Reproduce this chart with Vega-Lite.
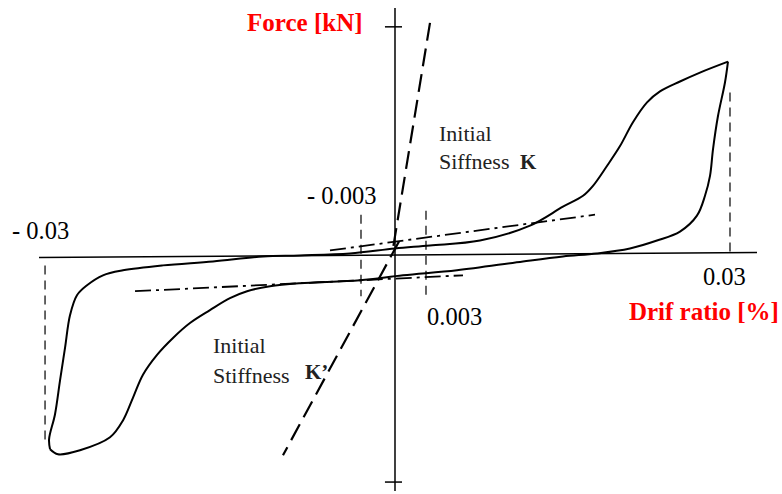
{
  "$schema": "https://vega.github.io/schema/vega-lite/v6.json",
  "width": 782,
  "height": 494,
  "autosize": {"type": "fit", "contains": "padding"},
  "padding": 0,
  "background": "white",
  "config": {"view": {"stroke": null}},
  "datasets": {
    "loop": [
      {"br": "load", "o": 1, "d": -0.03089, "f": -97},
      {"br": "load", "o": 2, "d": -0.03098, "f": -92},
      {"br": "load", "o": 3, "d": -0.03045, "f": -79.5},
      {"br": "load", "o": 4, "d": -0.03, "f": -62.5},
      {"br": "load", "o": 5, "d": -0.02955, "f": -46},
      {"br": "load", "o": 6, "d": -0.0291, "f": -29.5},
      {"br": "load", "o": 7, "d": -0.02848, "f": -19.5},
      {"br": "load", "o": 8, "d": -0.02758, "f": -14.5},
      {"br": "load", "o": 9, "d": -0.02615, "f": -9.5},
      {"br": "load", "o": 10, "d": -0.02436, "f": -7},
      {"br": "load", "o": 11, "d": -0.02078, "f": -4.5},
      {"br": "load", "o": 12, "d": -0.0163, "f": -2.5},
      {"br": "load", "o": 13, "d": -0.01182, "f": 0},
      {"br": "load", "o": 14, "d": -0.00851, "f": 0.5},
      {"br": "load", "o": 15, "d": -0.00403, "f": 1.5},
      {"br": "load", "o": 16, "d": 0.0, "f": 4},
      {"br": "load", "o": 17, "d": 0.00313, "f": 5.5},
      {"br": "load", "o": 18, "d": 0.00761, "f": 8},
      {"br": "load", "o": 19, "d": 0.01209, "f": 15.5},
      {"br": "load", "o": 20, "d": 0.01504, "f": 25},
      {"br": "load", "o": 21, "d": 0.01684, "f": 30.5},
      {"br": "load", "o": 22, "d": 0.01773, "f": 35.5},
      {"br": "load", "o": 23, "d": 0.01898, "f": 45.5},
      {"br": "load", "o": 24, "d": 0.02015, "f": 55.5},
      {"br": "load", "o": 25, "d": 0.02131, "f": 67.5},
      {"br": "load", "o": 26, "d": 0.02257, "f": 77.5},
      {"br": "load", "o": 27, "d": 0.02373, "f": 83},
      {"br": "load", "o": 28, "d": 0.02552, "f": 88},
      {"br": "load", "o": 29, "d": 0.02731, "f": 92.5},
      {"br": "load", "o": 30, "d": 0.02982, "f": 98},
      {"br": "unload", "o": 30, "d": 0.02982, "f": 98},
      {"br": "unload", "o": 31, "d": 0.02955, "f": 87.5},
      {"br": "unload", "o": 32, "d": 0.02892, "f": 70.5},
      {"br": "unload", "o": 33, "d": 0.02848, "f": 54},
      {"br": "unload", "o": 34, "d": 0.02821, "f": 40.5},
      {"br": "unload", "o": 35, "d": 0.02776, "f": 30.5},
      {"br": "unload", "o": 36, "d": 0.02704, "f": 20.5},
      {"br": "unload", "o": 37, "d": 0.02552, "f": 12.5},
      {"br": "unload", "o": 38, "d": 0.02346, "f": 8},
      {"br": "unload", "o": 39, "d": 0.02104, "f": 4},
      {"br": "unload", "o": 40, "d": 0.01809, "f": 1.5},
      {"br": "unload", "o": 41, "d": 0.01504, "f": 0},
      {"br": "unload", "o": 42, "d": 0.01146, "f": -2.5},
      {"br": "unload", "o": 43, "d": 0.00555, "f": -7},
      {"br": "unload", "o": 44, "d": 0.00072, "f": -9.5},
      {"br": "unload", "o": 45, "d": -0.00313, "f": -12},
      {"br": "unload", "o": 46, "d": -0.00851, "f": -13.5},
      {"br": "unload", "o": 47, "d": -0.01119, "f": -15},
      {"br": "unload", "o": 48, "d": -0.01325, "f": -17.5},
      {"br": "unload", "o": 49, "d": -0.01478, "f": -21},
      {"br": "unload", "o": 50, "d": -0.01657, "f": -27},
      {"br": "unload", "o": 51, "d": -0.01836, "f": -33.5},
      {"br": "unload", "o": 52, "d": -0.01988, "f": -41},
      {"br": "unload", "o": 53, "d": -0.02131, "f": -49.5},
      {"br": "unload", "o": 54, "d": -0.02257, "f": -59.5},
      {"br": "unload", "o": 55, "d": -0.02346, "f": -71},
      {"br": "unload", "o": 56, "d": -0.02436, "f": -82.5},
      {"br": "unload", "o": 57, "d": -0.02552, "f": -91},
      {"br": "unload", "o": 58, "d": -0.02821, "f": -97.5},
      {"br": "unload", "o": 59, "d": -0.03018, "f": -99.5},
      {"br": "unload", "o": 60, "d": -0.03089, "f": -97}
    ],
    "axes": [
      {"id": "h", "o": 1, "d": -0.03188, "f": -0.5},
      {"id": "h", "o": 2, "d": 0.03242, "f": 2},
      {"id": "v", "o": 1, "d": 0.0, "f": 125},
      {"id": "v", "o": 2, "d": 0.0, "f": -118},
      {"id": "t1", "o": 1, "d": -0.0009, "f": 115.5},
      {"id": "t1", "o": 2, "d": 0.00063, "f": 115.5},
      {"id": "t2", "o": 1, "d": -0.0009, "f": -113.5},
      {"id": "t2", "o": 2, "d": 0.00063, "f": -113.5}
    ],
    "klines": [
      {"id": "K", "o": 1, "d": 0.003134, "f": 117.5},
      {"id": "K", "o": 2, "d": -0.000179, "f": 4},
      {"id": "K2", "o": 1, "d": 0.000358, "f": 7.5},
      {"id": "K2", "o": 2, "d": -0.01003, "f": -100}
    ],
    "guides": [
      {"id": "m03", "o": 1, "d": -0.03134, "f": -4.5},
      {"id": "m03", "o": 2, "d": -0.03134, "f": -92.5},
      {"id": "p03", "o": 1, "d": 0.0300, "f": 82.5},
      {"id": "p03", "o": 2, "d": 0.0300, "f": 2},
      {"id": "m003", "o": 1, "d": -0.003045, "f": 21},
      {"id": "m003", "o": 2, "d": -0.003045, "f": -20},
      {"id": "p003", "o": 1, "d": 0.002776, "f": 23},
      {"id": "p003", "o": 2, "d": 0.002776, "f": -20}
    ],
    "dashdot": [
      {"id": "up", "o": 1, "d": -0.005821, "f": 3},
      {"id": "up", "o": 2, "d": 0.01791, "f": 21},
      {"id": "lo", "o": 1, "d": -0.02328, "f": -17.5},
      {"id": "lo", "o": 2, "d": 0.006089, "f": -9.5}
    ],
    "titles": [
      {"t": "Force [kN]", "d": -0.01325, "f": 113.5},
      {"t": "Drif ratio [%]", "d": 0.02095, "f": -32}
    ],
    "nums": [
      {"t": "- 0.03", "d": -0.0343, "f": 9},
      {"t": "- 0.003", "d": -0.00788, "f": 26.5},
      {"t": "0.003", "d": 0.002866, "f": -34.5},
      {"t": "0.03", "d": 0.02758, "f": -14.5}
    ],
    "notes": [
      {"t": "Initial", "d": 0.00394, "f": 58},
      {"t": "Siffness", "d": 0.00394, "f": 44},
      {"t": "Initial", "d": -0.0163, "f": -48.5},
      {"t": "Stiffness", "d": -0.0163, "f": -63.5}
    ],
    "kl": [
      {"t": "K", "d": 0.01119, "f": 44},
      {"t": "K’", "d": -0.00806, "f": -61.5}
    ]
  },
  "encoding": {
    "x": {"field": "d", "type": "quantitative", "scale": {"domain": [-0.035373, 0.034657], "nice": false, "zero": false}, "axis": null},
    "y": {"field": "f", "type": "quantitative", "scale": {"domain": [-118, 129], "nice": false, "zero": false}, "axis": null}
  },
  "layer": [
    {
      "data": {"name": "axes"},
      "mark": {"type": "line", "color": "black", "strokeWidth": 1.5},
      "encoding": {"detail": {"field": "id"}, "order": {"field": "o"}}
    },
    {
      "data": {"name": "guides"},
      "mark": {"type": "line", "color": "black", "strokeWidth": 1.2, "strokeDash": [9, 6]},
      "encoding": {"detail": {"field": "id"}, "order": {"field": "o"}}
    },
    {
      "data": {"name": "klines"},
      "mark": {"type": "line", "color": "black", "strokeWidth": 2.2, "strokeDash": [18, 8]},
      "encoding": {"detail": {"field": "id"}, "order": {"field": "o"}}
    },
    {
      "data": {"name": "dashdot"},
      "mark": {"type": "line", "color": "black", "strokeWidth": 1.8, "strokeDash": [16, 5, 3, 5]},
      "encoding": {"detail": {"field": "id"}, "order": {"field": "o"}}
    },
    {
      "data": {"name": "loop"},
      "mark": {"type": "line", "color": "black", "strokeWidth": 2, "interpolate": "catmull-rom"},
      "encoding": {"detail": {"field": "br"}, "order": {"field": "o"}}
    },
    {
      "data": {"name": "titles"},
      "mark": {"type": "text", "align": "left", "baseline": "alphabetic", "font": "Liberation Serif", "fontSize": 25, "fontWeight": "bold", "color": "#ff0000"},
      "encoding": {"text": {"field": "t"}}
    },
    {
      "data": {"name": "nums"},
      "mark": {"type": "text", "align": "left", "baseline": "alphabetic", "font": "Liberation Serif", "fontSize": 24.5, "color": "black"},
      "encoding": {"text": {"field": "t"}}
    },
    {
      "data": {"name": "notes"},
      "mark": {"type": "text", "align": "left", "baseline": "alphabetic", "font": "Liberation Serif", "fontSize": 22, "color": "#222222"},
      "encoding": {"text": {"field": "t"}}
    },
    {
      "data": {"name": "kl"},
      "mark": {"type": "text", "align": "left", "baseline": "alphabetic", "font": "Liberation Serif", "fontSize": 21, "fontWeight": "bold", "color": "#222222"},
      "encoding": {"text": {"field": "t"}}
    }
  ]
}
